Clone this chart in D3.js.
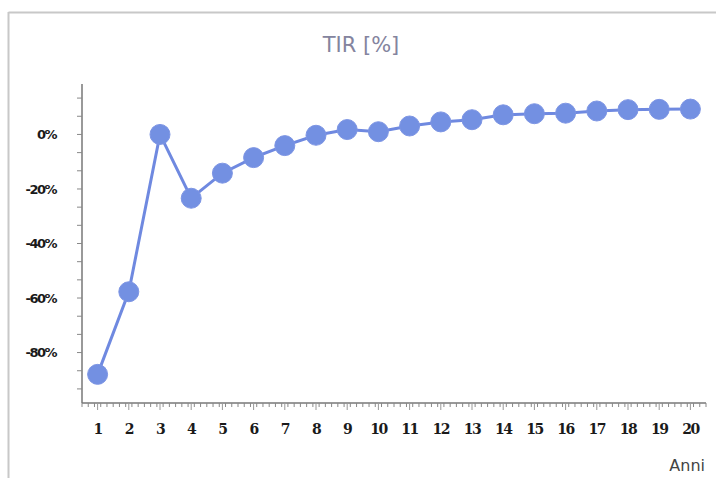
<!DOCTYPE html>
<html><head><meta charset="utf-8">
<script src="https://cdn.jsdelivr.net/npm/d3@7/dist/d3.min.js"></script>
<style>body{margin:0;background:#fff;}svg{display:block;}</style>
</head><body>
<svg id="c" width="716" height="478"></svg>
<script>
const years = [1,2,3,4,5,6,7,8,9,10,11,12,13,14,15,16,17,18,19,20];
const tir = [-88,-57.7,0,-23.4,-14.2,-8.5,-4.1,-0.3,1.8,1.0,3.1,4.6,5.4,7.2,7.6,7.8,8.6,9.1,9.2,9.3];
const yTicks = [0,-20,-40,-60,-80];
const yTickLabels = ["0%","-20%","-40%","-60%","-80%"];
const title = "TIR [%]";
const xTitle = "Anni";

const svg = d3.select("#c");
// frame
svg.append("line").attr("x1",8.5).attr("x2",716).attr("y1",12.5).attr("y2",12.5).attr("stroke","#c8c8c8").attr("stroke-width",2);
svg.append("line").attr("x1",8.5).attr("x2",8.5).attr("y1",12).attr("y2",478).attr("stroke","#c8c8c8").attr("stroke-width",2);

const x = d3.scaleBand().domain(years).range([82,706]);
const y = d3.scaleLinear().domain([-98.5,18.5]).range([403,84]);

// y axis
const g = svg.append("g");
g.append("line").attr("x1",82).attr("x2",82).attr("y1",y(18.5)).attr("y2",403).attr("stroke","#777").attr("stroke-width",1.5);
const minorY = d3.range(-14,3).map(i=>i*20/3);
g.selectAll(".ym").data(minorY).join("line")
 .attr("x1",77).attr("x2",82).attr("y1",d=>y(d)).attr("y2",d=>y(d)).attr("stroke","#888").attr("stroke-width",1);
g.selectAll(".yl").data(yTicks).join("text")
 .attr("x",56).attr("y",d=>y(d)).attr("dy","0.35em").attr("text-anchor","end")
 .attr("font-family","DejaVu Sans").attr("font-weight","bold").attr("font-size",13).attr("fill","#1a1a1a")
 .attr("letter-spacing","-1.5").text((d,i)=>yTickLabels[i]);

// x axis
g.append("line").attr("x1",82).attr("x2",706).attr("y1",403).attr("y2",403).attr("stroke","#777").attr("stroke-width",1.5);
const bw = x.bandwidth();
const minorX = d3.range(0,101).map(i=>82+i*bw/5);
g.selectAll(".xm").data(minorX).join("line")
 .attr("x1",d=>d).attr("x2",d=>d).attr("y1",403).attr("y2",407).attr("stroke","#888").attr("stroke-width",1);
g.selectAll(".xM").data(years).join("line")
 .attr("x1",d=>x(d)+bw/2).attr("x2",d=>x(d)+bw/2).attr("y1",403).attr("y2",410).attr("stroke","#999").attr("stroke-width",1);
g.selectAll(".xl").data(years).join("text")
 .attr("x",d=>x(d)+bw/2).attr("y",434).attr("text-anchor","middle")
 .attr("font-family","DejaVu Serif").attr("font-weight","bold").attr("font-size",14).attr("fill","#1a1a1a")
 .attr("letter-spacing","-1.5").text(d=>d);

// title
svg.append("text").attr("x",361).attr("y",52).attr("text-anchor","middle")
 .attr("font-family","DejaVu Sans").attr("font-size",21).attr("fill","#84849e").text(title);
svg.append("text").attr("x",705).attr("y",471).attr("text-anchor","end")
 .attr("font-family","DejaVu Sans").attr("font-size",16).attr("fill","#444").text(xTitle);

// line
const cx = d=>x(d)+bw/2;
const line = d3.line().x((d,i)=>cx(years[i])).y(d=>y(d));
svg.append("path").datum(tir).attr("d",line).attr("fill","none").attr("stroke","#6f89e0").attr("stroke-width",3);
svg.selectAll(".pt").data(tir).join("circle")
 .attr("cx",(d,i)=>cx(years[i])).attr("cy",d=>y(d)).attr("r",10)
 .attr("fill","#7390e2").attr("stroke","#7d95e4").attr("stroke-width",1);
</script>
</body></html>
